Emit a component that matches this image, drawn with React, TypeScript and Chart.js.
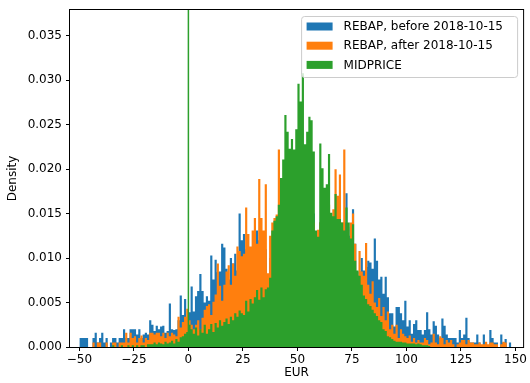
import { useEffect, useRef } from "react";
import { Chart, registerables } from "chart.js";

Chart.register(...registerables);

// Histogram densities, in units of 1e-3, one value per 1-EUR bin.
const PER_MILLE = 0.001;

const blueStart = -50;
const bluePerMille = [
  1.0, 1.0, 1.0, 1.0, 0, 0, 1.0, 1.6, 0.5, 1.0,
  1.6, 0.5, 1.0, 0, 0.5, 1.0, 1.0, 0.5, 1.0, 1.0,
  2.0, 1.0, 1.0, 2.0, 2.0, 2.0, 1.4, 2.0, 1.0, 1.4,
  1.6, 1.4, 3.0, 2.5, 1.8, 2.4, 2.0, 2.3, 2.4, 1.6,
  1.8, 4.9, 2.0, 1.9, 2.0, 3.0, 5.8, 3.6, 5.4, 3.0,
  3.9, 6.8, 4.0, 5.7, 6.3, 8.2, 6.3, 5.0, 5.7, 5.2,
  10.3, 7.6, 9.8, 8.4, 8.5, 11.6, 11.2, 8.8, 7.6, 10.0,
  9.4, 10.5, 8.6, 15.0, 12.0, 12.7, 11.0, 10.0, 11.0, 10.5,
  12.0, 13.1, 12.0, 10.0, 12.0, 11.0, 7.5, 10.0, 12.0, 11.0,
  13.0, 12.0, 14.0, 13.0, 15.0, 14.0, 16.0, 15.0, 14.0, 17.0,
  15.0, 16.0, 14.0, 17.0, 15.0, 16.0, 14.0, 15.0, 11.0, 12.0,
  14.0, 15.0, 13.0, 15.0, 13.0, 14.0, 12.0, 14.0, 13.0, 12.0,
  13.0, 14.0, 17.3, 12.5, 13.5, 15.5, 11.6, 8.0, 8.5, 10.0,
  8.6, 9.0, 9.7, 9.5, 8.8, 12.2, 9.7, 7.6, 7.9, 6.0,
  7.9, 5.6, 3.8, 3.8, 2.3, 4.5, 4.5, 3.8, 3.0, 5.2,
  2.3, 3.0, 1.5, 2.6, 3.0, 1.9, 1.9, 1.4, 1.9, 3.9,
  2.0, 1.4, 2.9, 2.4, 1.4, 1.0, 3.2, 2.4, 1.4, 1.0,
  1.0, 1.0, 1.0, 0.5, 1.9, 1.0, 1.4, 3.3, 1.0, 0.5,
  0.5, 0.5, 1.4, 0.5, 0, 1.4, 0.5, 0, 1.9, 1.0,
  0.5, 0.5, 0, 1.4, 0.5, 0.9, 0, 0.5, 0,
];

const orangeStart = -45;
const orangePerMille = [
  0, 0.5, 0, 0.5, 0.5, 0, 0, 0.5, 0, 0,
  0.5, 0.5, 0, 0.5, 0.5, 0.5, 1.6, 0.5, 1.6, 1.0,
  1.2, 0.5, 1.0, 1.3, 0.5, 1.0, 0.8, 1.6, 1.6, 1.4,
  1.6, 1.6, 1.2, 1.6, 1.0, 1.6, 1.2, 1.6, 1.4, 1.2,
  3.4, 2.2, 2.8, 3.4, 4.3, 3.0, 2.5, 2.0, 2.5, 3.0,
  2.0, 3.3, 4.2, 4.6, 4.8, 3.6, 5.1, 5.9, 9.4, 6.9,
  5.2, 7.0, 8.5, 9.2, 7.0, 9.4, 8.0, 11.3, 10.8, 10.2,
  10.5, 15.7, 12.7, 11.3, 13.1, 14.5, 11.6, 18.9, 14.5, 13.1,
  18.3, 8.3, 12.5, 14.0, 14.5, 14.9, 22.2, 16.2, 15.0, 17.0,
  18.0, 16.0, 19.0, 17.0, 18.0, 20.0, 17.0, 19.0, 18.0, 16.0,
  17.5, 15.0, 14.0, 12.0, 13.2, 14.0, 16.0, 15.0, 17.0, 16.0,
  14.0, 15.5, 20.0, 17.0, 19.4, 14.0, 22.2, 13.0, 11.0, 14.0,
  15.0, 11.6, 8.0, 10.8, 8.5, 8.0, 11.7, 7.0, 6.0, 7.4,
  5.0, 4.5, 5.5, 3.5, 4.5, 3.0, 4.0, 2.0, 2.5, 1.5,
  2.5, 1.0, 2.0, 1.5, 1.2, 1.0, 1.3, 0.6, 1.0, 0.5,
  0.8, 0.5, 0.5, 1.0, 0.8, 0.3, 0.5, 1.5, 0.5, 0.3,
  1.2, 1.0, 0.3, 0.8, 0.5, 0.8, 0.3, 0, 0.3, 0.5,
  0.8, 0.8, 0.3, 0.8, 0.5, 0.5, 0.3, 0.3, 0.5, 0.3,
  0.3, 0.6, 0.3, 0.5, 0.5, 0.3, 0.3, 0, 0.3, 0.6,
  0.5, 0, 0,
];

const greenStart = -35;
const greenPerMille = [
  0.2, 0, 0, 0, 0.2, 0, 0, 0.2, 0, 0.2,
  0, 0.2, 0, 0.2, 0.2, 0, 0.3, 0.3, 0.3, 0.5,
  0.3, 0.5, 0.4, 0.3, 0.6, 0.4, 0.5, 0.7, 0.4, 0.9,
  0.6, 1.1, 1.2, 1.5, 1.7, 2.5, 2.0, 1.5, 2.2, 1.3,
  2.0, 1.6, 2.5, 1.5, 2.0, 2.6, 1.7, 2.7, 2.2, 3.0,
  2.4, 2.8, 3.2, 2.6, 3.4, 3.0, 3.8, 3.4, 4.1, 3.8,
  3.6, 5.2, 4.0, 5.4, 4.9, 5.6, 6.4, 5.3, 6.7, 5.6,
  6.5, 6.7, 7.8, 13.1, 14.2, 14.7, 16.0, 19.0, 21.1, 26.1,
  24.2, 22.3, 23.4, 22.2, 24.5, 29.6, 27.6, 30.8, 22.8, 24.2,
  25.9, 25.5, 22.0, 13.1, 12.4, 22.9, 20.1, 17.9, 18.3, 21.7,
  15.1, 14.7, 17.2, 14.4, 14.4, 14.0, 13.1, 15.7, 14.0, 12.2,
  13.8, 9.7, 8.6, 8.0, 7.0, 5.8, 5.4, 4.8, 4.6, 4.2,
  3.8, 3.5, 3.0, 2.8, 2.0, 1.8, 1.2, 1.1, 0.9, 0.7,
  0.6, 0.6, 0.6, 0.5, 0.5, 0.4, 0.4, 0.4, 0.4, 0.3,
  0.4, 0.3, 0.2, 0.2, 0.2, 0.1,
];

const seriesLabels = [
  "REBAP, before 2018-10-15",
  "REBAP, after 2018-10-15",
  "MIDPRICE",
];
const seriesColors = ["#1f77b4", "#ff7f0e", "#2ca02c"];

const xTicks = [-50, -25, 0, 25, 50, 75, 100, 125, 150];
const yTicks = [0, 0.005, 0.01, 0.015, 0.02, 0.025, 0.03, 0.035];
const X_MIN = -54.3;
const X_MAX = 153.5;
const Y_MIN = 0;
const Y_MAX = 0.0379;
const VLINE_X = 0;

const FONT = "'DejaVu Sans', sans-serif";

function stepPoints(start: number, values: number[]) {
  const pts = values.map((v, i) => ({ x: start + i, y: v * PER_MILLE }));
  pts.push({ x: start + values.length, y: values[values.length - 1] * PER_MILLE });
  return pts;
}

const overlayPlugin = {
  id: "mplOverlay",
  afterDraw(chart: any) {
    const ctx = chart.ctx as CanvasRenderingContext2D;
    const { left, top, right, bottom } = chart.chartArea;
    ctx.save();
    // vertical line at 0
    const xv = chart.scales.x.getPixelForValue(VLINE_X);
    ctx.strokeStyle = seriesColors[2];
    ctx.lineWidth = 1.5;
    ctx.beginPath();
    ctx.moveTo(xv, top);
    ctx.lineTo(xv, bottom);
    ctx.stroke();
    // frame
    ctx.strokeStyle = "#000";
    ctx.lineWidth = 1;
    ctx.strokeRect(left - 0.5, top - 0.5, right - left + 1, bottom - top + 1);
    // legend
    const lw = 216;
    const lh = 61;
    const lx = right - 6 - lw + 0.5;
    const ly = top + 6 + 0.5;
    const r = 3;
    ctx.beginPath();
    ctx.moveTo(lx + r, ly);
    ctx.lineTo(lx + lw - r, ly);
    ctx.arcTo(lx + lw, ly, lx + lw, ly + r, r);
    ctx.lineTo(lx + lw, ly + lh - r);
    ctx.arcTo(lx + lw, ly + lh, lx + lw - r, ly + lh, r);
    ctx.lineTo(lx + r, ly + lh);
    ctx.arcTo(lx, ly + lh, lx, ly + lh - r, r);
    ctx.lineTo(lx, ly + r);
    ctx.arcTo(lx, ly, lx + r, ly, r);
    ctx.closePath();
    ctx.fillStyle = "rgba(255,255,255,0.8)";
    ctx.fill();
    ctx.strokeStyle = "#cccccc";
    ctx.stroke();
    ctx.font = `12px ${FONT}`;
    ctx.textBaseline = "middle";
    ctx.textAlign = "left";
    seriesLabels.forEach((label, i) => {
      const cy = ly + 10 + i * 19.2;
      ctx.fillStyle = seriesColors[i];
      ctx.fillRect(lx + 5, cy - 4, 26, 8);
      ctx.fillStyle = "#000";
      ctx.fillText(label, lx + 42, cy + 0.5);
    });
    ctx.restore();
  },
};

export default function App() {
  const canvasRef = useRef<HTMLCanvasElement | null>(null);

  useEffect(() => {
    const canvas = canvasRef.current;
    if (!canvas) return;
    const starts = [blueStart, orangeStart, greenStart];
    const values = [bluePerMille, orangePerMille, greenPerMille];
    const orders = [3, 2, 1];
    const fmtX = (v: number) => (v < 0 ? "\u2212" + Math.abs(v) : String(v));
    const chart = new Chart(canvas, {
      type: "line",
      data: {
        datasets: seriesLabels.map((label, i) => ({
          label,
          data: stepPoints(starts[i], values[i]),
          stepped: true,
          fill: "origin",
          backgroundColor: seriesColors[i],
          borderColor: "rgba(0,0,0,0)",
          borderWidth: 0,
          pointRadius: 0,
          pointHoverRadius: 0,
          order: orders[i],
        })),
      },
      options: {
        animation: false,
        responsive: false,
        devicePixelRatio: 1,
        events: [],
        parsing: false,
        normalized: true,
        layout: { padding: { top: 7, right: 5, left: 0, bottom: 0 } },
        plugins: {
          legend: { display: false },
          tooltip: { enabled: false },
        },
        scales: {
          x: {
            type: "linear",
            min: X_MIN,
            max: X_MAX,
            afterBuildTicks: (s: any) => {
              s.ticks = xTicks.map((v) => ({ value: v }));
            },
            afterFit: (s: any) => {
              s.height = 36;
            },
            ticks: {
              callback: (v: any) => fmtX(Number(v)),
              font: { family: FONT, size: 12, lineHeight: 1 },
              color: "#000",
              padding: 3,
              maxRotation: 0,
              autoSkip: false,
            },
            grid: {
              display: true,
              drawOnChartArea: false,
              drawTicks: true,
              tickLength: 4,
              color: "#000",
              lineWidth: 1,
            },
            border: { display: false },
            title: {
              display: true,
              text: "EUR",
              color: "#000",
              font: { family: FONT, size: 12, lineHeight: 1.2 },
              padding: { top: 0, bottom: 3 },
            },
          },
          y: {
            type: "linear",
            min: Y_MIN,
            max: Y_MAX,
            afterBuildTicks: (s: any) => {
              s.ticks = yTicks.map((v) => ({ value: v }));
            },
            afterFit: (s: any) => {
              s.width = 70;
            },
            ticks: {
              callback: (v: any) => Number(v).toFixed(3),
              font: { family: FONT, size: 12, lineHeight: 1 },
              color: "#000",
              padding: 4,
            },
            grid: {
              display: true,
              drawOnChartArea: false,
              drawTicks: true,
              tickLength: 4,
              color: "#000",
              lineWidth: 1,
            },
            border: { display: false },
            title: {
              display: true,
              text: "Density",
              color: "#000",
              font: { family: FONT, size: 12, lineHeight: 1.2 },
              padding: { top: 6, bottom: 0 },
            },
          },
        },
      },
      plugins: [overlayPlugin],
    } as any);
    return () => chart.destroy();
  }, []);

  return (
    <div style={{ position: "absolute", left: 0, top: 0, width: 530, height: 383, background: "#fff" }}>
      <canvas ref={canvasRef} width={530} height={383} style={{ display: "block" }} />
    </div>
  );
}
